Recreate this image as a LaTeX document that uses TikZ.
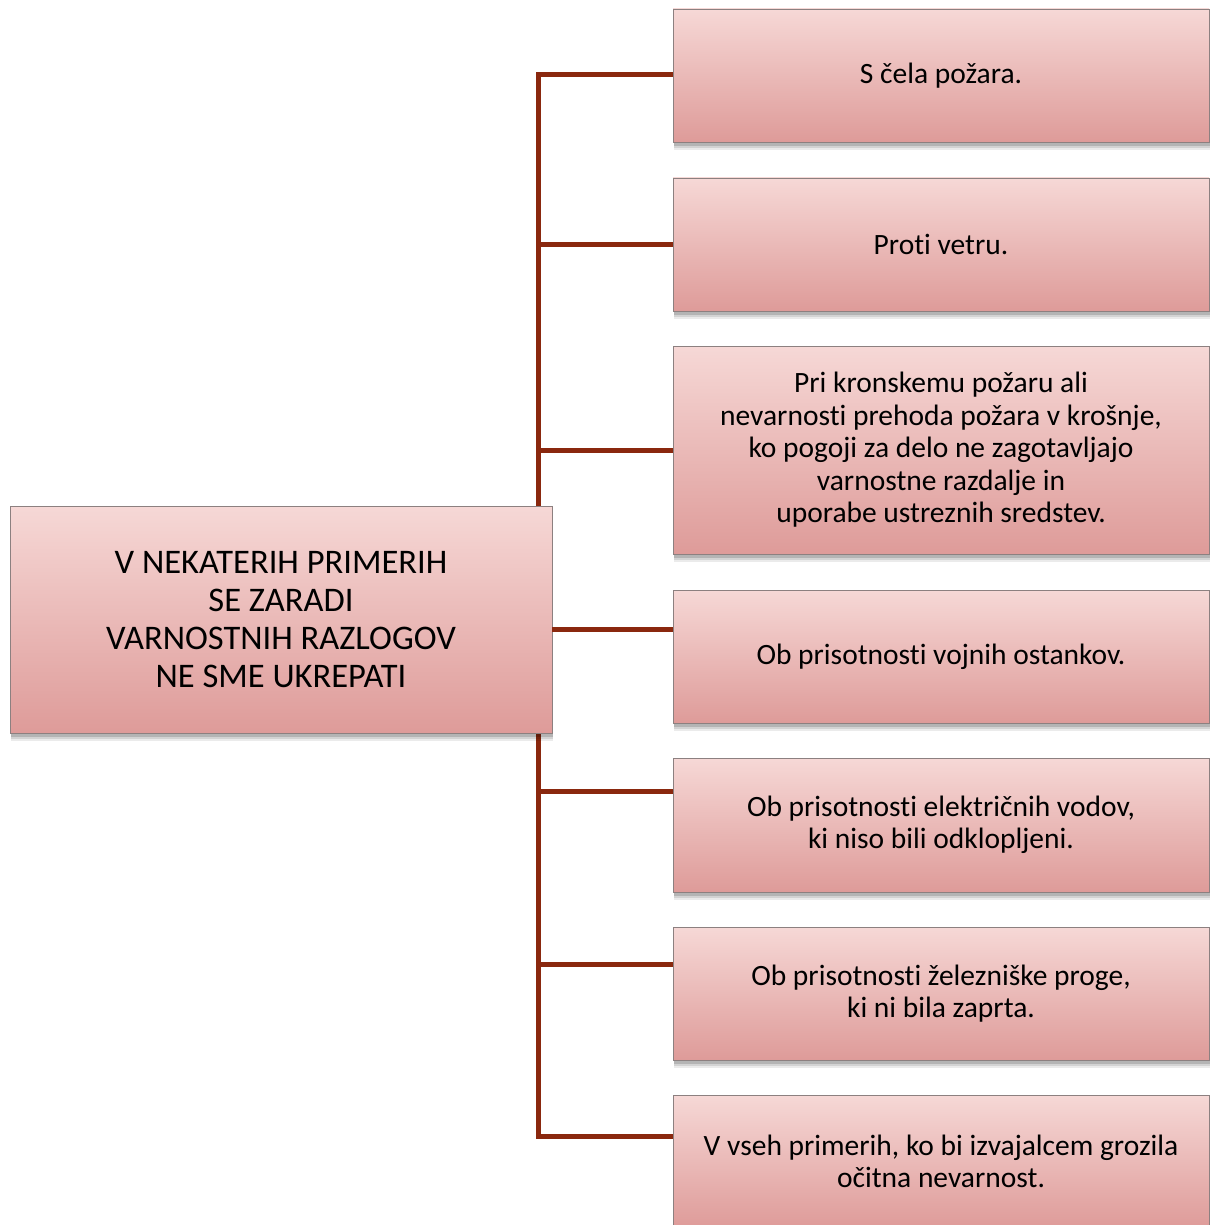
\documentclass[tikz,border=0pt]{standalone}
\usepackage{fontspec}
\setmainfont{Carlito}[Ligatures=NoCommon]
\usetikzlibrary{shadows}
\definecolor{conncol}{RGB}{138,40,14}
\definecolor{boxtop}{RGB}{246,216,214}
\definecolor{boxbot}{RGB}{222,155,153}
\definecolor{boxline}{RGB}{140,128,128}
\begin{document}
\begin{tikzpicture}[x=1pt,y=-1pt,
  box/.style={draw=boxline, line width=0.8pt, top color=boxtop, bottom color=boxbot,
    rectangle, inner sep=0pt, align=center, text=black,
    general shadow={shadow xshift=1pt, shadow yshift=-8pt, opacity=0.08, fill=black},
    general shadow={shadow xshift=1pt, shadow yshift=-6pt, opacity=0.1, fill=black},
    general shadow={shadow xshift=1pt, shadow yshift=-4pt, opacity=0.15, fill=black}},
  rbox/.style={box, minimum width=536pt, font=\fontsize{29.5}{32.5}\selectfont},
  lbox/.style={box, minimum width=542pt, minimum height=227pt, font=\fontsize{34.5}{38}\selectfont},
  conn/.style={draw=conncol, line width=5pt}]
\useasboundingbox (0,0) rectangle (1212,1225);
% coordinates
\coordinate (sx) at (538,0);
\coordinate (p1) at (0,75);
\coordinate (p2) at (0,244);
\coordinate (p3) at (0,450);
\coordinate (p4) at (0,629);
\coordinate (p5) at (0,791);
\coordinate (p6) at (0,964);
\coordinate (p7) at (0,1136);
% nodes
\node[rbox, minimum height=133pt] (b1) at (941,75.5) {S čela požara.};
\node[rbox, minimum height=133pt] (b2) at (941,244.5) {Proti vetru.};
\node[rbox, minimum height=208pt] (b3) at (941,450) {Pri kronskemu požaru ali\\nevarnosti prehoda požara v krošnje,\\ko pogoji za delo ne zagotavljajo\\varnostne razdalje in\\uporabe ustreznih sredstev.};
\node[rbox, minimum height=133pt] (b4) at (941,656.5) {Ob prisotnosti vojnih ostankov.};
\node[rbox, minimum height=134pt] (b5) at (941,825) {Ob prisotnosti električnih vodov,\\ki niso bili odklopljeni.};
\node[rbox, minimum height=133pt] (b6) at (941,993.5) {Ob prisotnosti železniške proge,\\ki ni bila zaprta.};
\node[rbox, minimum height=133pt] (b7) at (941,1161.5) {V vseh primerih, ko bi izvajalcem grozila\\očitna nevarnost.};
% connectors
\draw[conn, line join=miter] (b1.west |- p1) -- (sx |- p1) -- (sx |- p7) -- (b7.west |- p7);
\draw[conn] (sx |- p2) -- (b2.west |- p2);
\draw[conn] (sx |- p3) -- (b3.west |- p3);
\draw[conn] (sx |- p5) -- (b5.west |- p5);
\draw[conn] (sx |- p6) -- (b6.west |- p6);
\node[lbox] (main) at (281,619.5) {V NEKATERIH PRIMERIH\\SE ZARADI\\VARNOSTNIH RAZLOGOV\\NE SME UKREPATI};
\draw[conn] (main.east |- p4) -- (b4.west |- p4);
\end{tikzpicture}
\end{document}
